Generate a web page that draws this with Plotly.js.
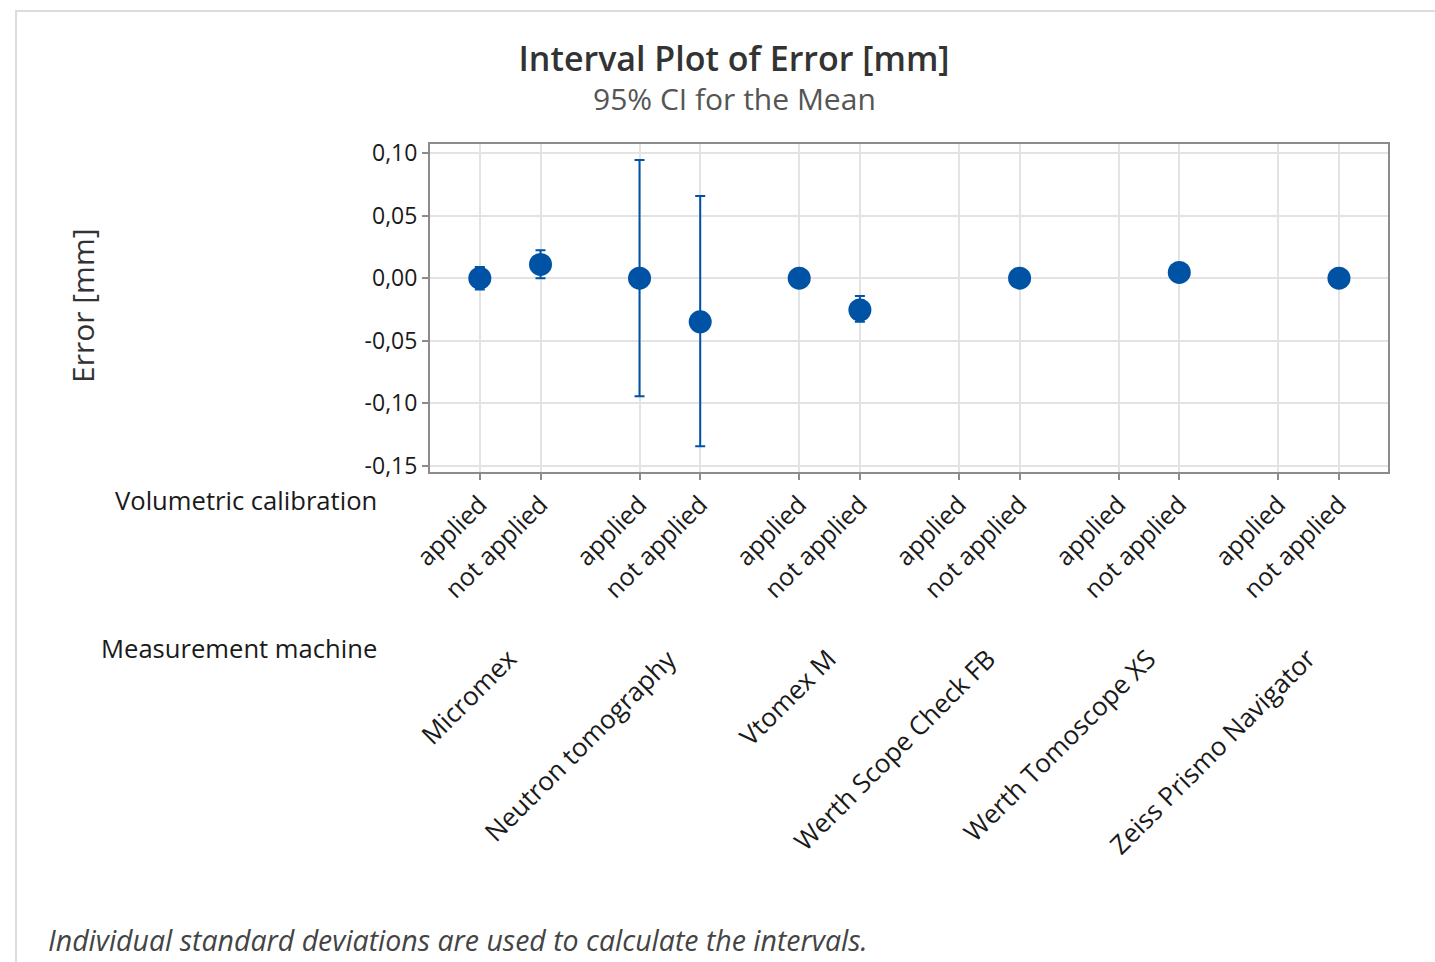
<!DOCTYPE html>
<html>
<head>
<meta charset="utf-8">
<script src="https://cdn.plot.ly/plotly-3.0.1.min.js"></script>
<style>
  html, body { margin: 0; padding: 0; background: #fff; }
  #chart { width: 1435px; height: 962px; }
  #frame { position: absolute; left: 15px; top: 10px; width: 1420px; height: 952px;
           border-top: 2px solid #dcdcdc; border-left: 2px solid #dcdcdc; pointer-events: none; }
</style>
</head>
<body>
<div id="chart"></div>
<div id="frame"></div>
<script>
// ---- data ----
const machines = ['Micromex', 'Neutron tomography', 'Vtomex M', 'Werth Scope Check FB', 'Werth Tomoscope XS', 'Zeiss Prismo Navigator'];
const calibrations = ['applied', 'not applied'];
// mean error per machine, [applied, not applied] (null = no data)
const meanApplied    = [0.000, 0.000, 0.000, null, null, null];
const meanNotApplied = [0.011, -0.035, -0.0255, 0.000, 0.0046, 0.000];
const lowApplied     = [-0.009, -0.0946, -0.002, null, null, null];
const highApplied    = [0.009, 0.0946, 0.002, null, null, null];
const lowNotApplied  = [0.000, -0.1346, -0.035, -0.002, 0.003, -0.002];
const highNotApplied = [0.0224, 0.0657, -0.0142, 0.002, 0.006, 0.002];
const yTickValues = [0.10, 0.05, 0.00, -0.05, -0.10, -0.15];
const yTickLabels = ['0,10', '0,05', '0,00', '-0,05', '-0,10', '-0,15'];

// ---- build ----
const OFF = 0.19;
const xs = [], ys = [], up = [], dn = [], tickVals = [], tickText = [];
machines.forEach((m, i) => {
  calibrations.forEach((c, j) => {
    const x = i + (j === 0 ? -OFF : OFF);
    tickVals.push(x); tickText.push(c);
    const mean = j === 0 ? meanApplied[i] : meanNotApplied[i];
    const lo = j === 0 ? lowApplied[i] : lowNotApplied[i];
    const hi = j === 0 ? highApplied[i] : highNotApplied[i];
    if (mean !== null) {
      xs.push(x); ys.push(mean); up.push(hi - mean); dn.push(mean - lo);
    }
  });
});

const blue = '#0053a4';
const font = 'Open Sans, Noto Sans, sans-serif';
const dark = '#1a1a1a';

const trace = {
  type: 'scatter', mode: 'markers', x: xs, y: ys,
  marker: { color: blue, size: 23, symbol: 'circle', line: { width: 0 } },
  error_y: { type: 'data', symmetric: false, array: up, arrayminus: dn, color: blue, thickness: 2, width: 5 },
  hoverinfo: 'x+y'
};

const plotL = 430, plotR = 1388, plotT = 144, plotB = 472;
const W = 1435, H = 962;
function px(xp) { return (xp - plotL) / (plotR - plotL); }
function py(yp) { return (plotB - yp) / (plotB - plotT); }

const annotations = machines.map((m, i) => ({
  text: m, x: i, xref: 'x', y: py(638), yref: 'paper', xanchor: 'right', yanchor: 'top',
  xshift: 17, textangle: -45, showarrow: false, font: { family: font, size: 26, color: dark }
}));
annotations.push(
  { text: 'Volumetric calibration', x: px(379), y: py(500), xref: 'paper', yref: 'paper', xanchor: 'right', yanchor: 'middle',
    showarrow: false, font: { family: font, size: 25.6, color: dark } },
  { text: 'Measurement machine', x: px(379), y: py(648), xref: 'paper', yref: 'paper', xanchor: 'right', yanchor: 'middle',
    showarrow: false, font: { family: font, size: 25.6, color: dark } },
  { text: '<i>Individual standard deviations are used to calculate the intervals.</i>', x: px(46), y: py(940), xref: 'paper', yref: 'paper', xanchor: 'left', yanchor: 'middle',
    showarrow: false, font: { family: font, size: 28.5, color: '#444' } },
  { text: '95% CI for the Mean', x: px(734), y: py(98), xref: 'paper', yref: 'paper', xanchor: 'center', yanchor: 'middle',
    showarrow: false, font: { family: font, size: 30, color: '#555' } },
  { text: 'Error [mm]', x: px(82), y: py(306), xref: 'paper', yref: 'paper', xanchor: 'center', yanchor: 'middle',
    textangle: -90, showarrow: false, font: { family: font, size: 30, color: '#333' } }
);

const layout = {
  width: W, height: H,
  margin: { l: plotL, r: W - plotR, t: plotT, b: H - plotB, pad: 0 },
  paper_bgcolor: '#fff', plot_bgcolor: '#fff',
  showlegend: false,
  title: { text: 'Interval Plot of Error [mm]', x: 734 / W, xanchor: 'center', y: 1 - 59 / H, yanchor: 'middle',
           font: { family: font, size: 34, color: '#333', weight: 600 } },
  xaxis: {
    range: [-0.502, 5.497], tickmode: 'array', tickvals: tickVals, ticktext: tickText, tickangle: -45,
    tickfont: { family: font, size: 25, color: dark },
    showgrid: true, gridcolor: '#e3e3e3', gridwidth: 2,
    showline: true, linecolor: '#8c8c8c', linewidth: 2, mirror: true,
    ticks: 'outside', ticklen: 6, tickcolor: '#8c8c8c', tickwidth: 1.5, zeroline: false
  },
  yaxis: {
    range: [-0.1552, 0.1074], tickmode: 'array', tickvals: yTickValues, ticktext: yTickLabels,
    tickfont: { family: font, size: 23, color: dark },
    showgrid: true, gridcolor: '#e3e3e3', gridwidth: 2,
    showline: true, linecolor: '#8c8c8c', linewidth: 2, mirror: true,
    ticks: 'outside', ticklen: 6, tickcolor: '#8c8c8c', tickwidth: 1.5, zeroline: false
  },
  annotations: annotations
};

Plotly.newPlot('chart', [trace], layout, { displayModeBar: false, responsive: false });
</script>
</body>
</html>
